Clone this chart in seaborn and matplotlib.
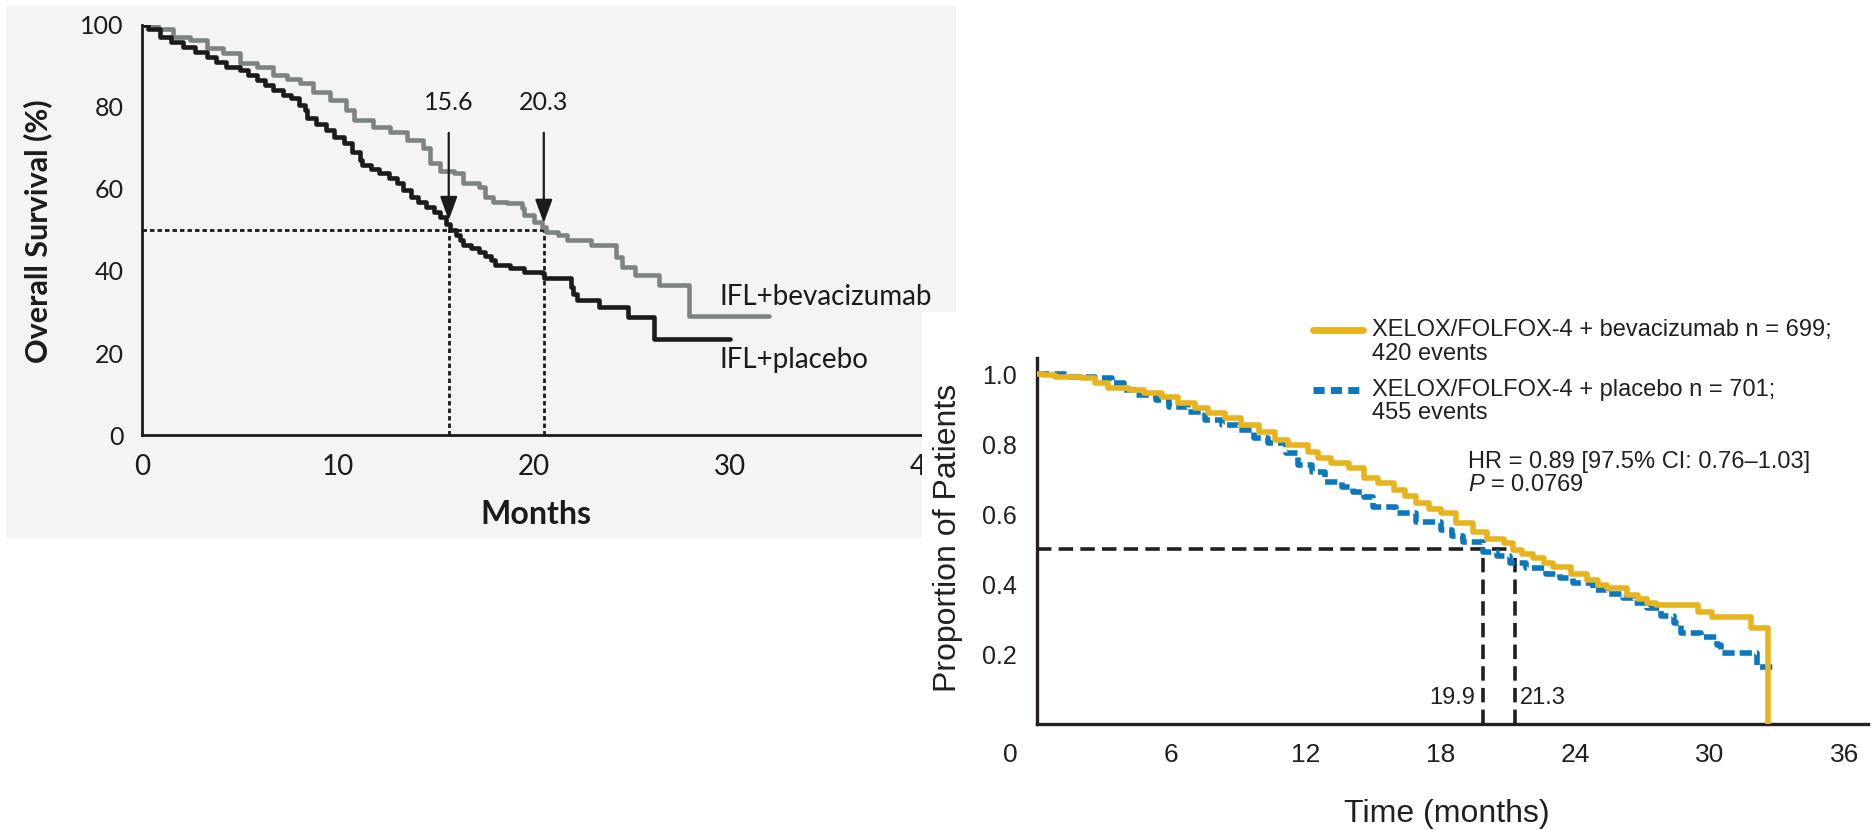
import numpy as np
import pandas as pd
import matplotlib
matplotlib.use("Agg")
import matplotlib.pyplot as plt
import seaborn as sns
from matplotlib.patches import Rectangle
from matplotlib.lines import Line2D

# ---------------- Left panel data (IFL trial) ----------------
ifl_bev_t = [0, 0.8, 1.6, 2.45, 3.3, 4.15, 5.0, 5.85, 6.7, 7.4, 8.06, 8.7, 9.6, 10.4, 10.8,
             11.8, 12.65, 13.5, 14.35, 14.7, 15.2, 15.9, 16.4, 17.2, 17.5, 17.9, 18.6, 19.4,
             19.5, 20.0, 20.4, 20.6, 21.2, 21.7, 22.9, 24.2, 24.5, 25.15, 26.4, 27.9, 32.0]
ifl_bev_s = [100, 99.0, 97.1, 96.3, 94.3, 93.1, 90.7, 89.8, 87.8, 86.8, 85.8, 83.7, 81.7, 79.3, 76.8,
             75.2, 74.0, 72.0, 69.9, 66.3, 64.4, 63.8, 61.4, 60.6, 58.1, 56.9, 56.5, 55.3,
             53.7, 52.0, 50.8, 49.6, 48.8, 47.6, 46.3, 43.5, 41.0, 39.0, 36.6, 29.1, 29.1]

ifl_pla_t = [0, 0.3, 0.9, 1.5, 2.1, 2.7, 3.3, 3.8, 4.3, 5.0, 5.4, 5.85, 6.3, 6.7, 7.2, 7.6, 8.0,
             8.3, 8.4, 8.9, 9.4, 9.8, 10.3, 10.7, 11.1, 11.2, 11.7, 12.1, 12.6, 13.0, 13.3, 13.7,
             14.1, 14.5, 14.9, 15.2, 15.5, 15.7, 16.0, 16.2, 16.4, 16.8, 17.2, 17.5, 17.8, 18.0,
             18.8, 19.5, 20.4, 20.5, 21.9, 22.0, 22.2, 23.3, 24.8, 26.1, 30.0]
ifl_pla_s = [100, 99.0, 97.1, 95.8, 94.7, 93.5, 92.3, 91.0, 89.8, 89.0, 87.8, 86.6, 85.3, 84.1, 83.0, 82.1, 80.6,
             79.3, 77.2, 75.8, 74.4, 72.8, 71.1, 69.0, 67.1, 65.9, 64.8, 63.8, 62.6, 61.4, 59.8, 58.1,
             56.9, 55.7, 54.3, 53.2, 51.5, 50.0, 48.8, 47.6, 46.3, 45.6, 44.7, 43.7, 42.7, 41.5,
             40.7, 39.8, 39.4, 38.2, 36.2, 34.5, 32.9, 31.3, 28.9, 23.4, 23.4]

left_medians = [15.65, 20.5]
left_median_labels = ["15.6", "20.3"]
left_xticks = [0, 10, 20, 30, 40]
left_yticks = [0, 20, 40, 60, 80, 100]
left_series_labels = ["IFL+bevacizumab", "IFL+placebo"]

# ---------------- Right panel data (XELOX/FOLFOX-4 trial) ----------------
bev_t = [0, 0.3, 0.8, 2.0, 2.6, 3.2, 4.1, 4.8, 5.6, 6.3, 7.05, 7.65, 8.4, 9.1, 9.9, 10.6, 11.2,
         12.1, 12.55, 13.1, 13.9, 14.6, 15.2, 15.9, 16.4, 16.9, 17.5, 18.0, 18.7, 19.45, 20.05,
         20.8, 21.2, 21.6, 22.1, 22.6, 23.0, 23.8, 24.5, 25.0, 25.4, 26.3, 26.8, 27.2, 27.6,
         29.45, 30.1, 31.8, 32.6]
bev_s = [1.0, 0.997, 0.992, 0.988, 0.973, 0.959, 0.954, 0.945, 0.935, 0.916, 0.902, 0.888, 0.873, 0.854, 0.835, 0.811, 0.797,
         0.778, 0.759, 0.745, 0.731, 0.702, 0.688, 0.669, 0.650, 0.631, 0.615, 0.602, 0.573, 0.549, 0.528,
         0.516, 0.497, 0.485, 0.473, 0.461, 0.449, 0.430, 0.411, 0.398, 0.388, 0.369, 0.357, 0.345, 0.340,
         0.321, 0.307, 0.273, 0.0]

pla_t = [0, 1.4, 2.6, 3.35, 3.9, 4.4, 5.3, 5.9, 6.75, 7.5, 8.25, 9.0, 9.7, 10.3, 11.1, 11.65,
         12.25, 12.85, 13.6, 14.1, 14.6, 15.0, 16.0, 16.9, 18.0, 18.5, 19.0, 19.9, 20.5, 21.1,
         21.8, 22.7, 23.3, 23.9, 24.8, 25.4, 26.1, 26.6, 27.2, 27.8, 28.4, 28.7, 29.6, 30.3,
         30.5, 32.1, 32.8]
pla_s = [1.0, 0.992, 0.988, 0.973, 0.955, 0.940, 0.926, 0.907, 0.892, 0.869, 0.854, 0.840, 0.816, 0.802, 0.773, 0.740,
         0.721, 0.692, 0.678, 0.663, 0.649, 0.621, 0.602, 0.578, 0.554, 0.538, 0.521, 0.492, 0.480, 0.459,
         0.445, 0.430, 0.416, 0.402, 0.383, 0.371, 0.359, 0.345, 0.331, 0.310, 0.288, 0.259, 0.249, 0.226,
         0.202, 0.164, 0.164]

right_medians = [19.9, 21.3]
right_median_labels = ["19.9", "21.3"]
right_xticks = [6, 12, 18, 24, 30, 36]
right_yticks = [0.2, 0.4, 0.6, 0.8, 1.0]
right_series_labels = ["XELOX/FOLFOX-4 + bevacizumab n = 699;", "420 events",
                       "XELOX/FOLFOX-4 + placebo n = 701;", "455 events"]
hr_text = ["HR = 0.89 [97.5% CI: 0.76\u20131.03]", "$P$ = 0.0769"]

# ---------------- Style ----------------
sns.set_style("white")
plt.rcParams["font.family"] = ["Lato", "DejaVu Sans"]
plt.rcParams["mathtext.fontset"] = "custom"
plt.rcParams["mathtext.it"] = "Liberation Sans:italic"
plt.rcParams["mathtext.rm"] = "Liberation Sans"

ARIAL = ["Liberation Sans", "DejaVu Sans"]

W, H = 1873, 830
fig = plt.figure(figsize=(W / 100, H / 100), dpi=100)
fig.patch.set_facecolor("white")


def fx(px):
    return px / W


def fy(py):
    return 1 - py / H


# gray background of left panel
fig.add_artist(Rectangle((fx(6), fy(538)), fx(956) - fx(6), fy(6) - fy(538),
                         transform=fig.transFigure, facecolor="#f4f4f4",
                         edgecolor="none", zorder=-5))

# ---------------- Left axes ----------------
L_X0, L_X1, L_Y0, L_Y1 = 142, 940, 435, 25
ax1 = fig.add_axes([fx(L_X0), fy(L_Y0), fx(L_X1) - fx(L_X0), fy(L_Y1) - fy(L_Y0)], zorder=0)
ax1.set_facecolor("none")
xmax1 = (L_X1 - L_X0) / 19.6
ax1.set_xlim(0, xmax1)
ax1.set_ylim(0, 100)

BLK = "#1c1a1a"
sns.lineplot(x=ifl_bev_t, y=ifl_bev_s, ax=ax1, color="#7d8383", lw=3.3,
             drawstyle="steps-post", estimator=None, sort=False, zorder=3)
sns.lineplot(x=ifl_pla_t, y=ifl_pla_s, ax=ax1, color=BLK, lw=3.3,
             drawstyle="steps-post", estimator=None, sort=False, zorder=4)

dot = (0, (1.6, 1.1))
ax1.plot([0, max(left_medians)], [50, 50], color=BLK, lw=2.0, ls=dot, zorder=2)
for m in left_medians:
    ax1.plot([m, m], [0, 50], color=BLK, lw=2.0, ls=dot, zorder=2)

arrow_tips = [52.4, 51.7]
for m, lab, tip in zip(left_medians, left_median_labels, arrow_tips):
    ax1.annotate("", xy=(m, tip), xytext=(m, 73.7),
                 arrowprops=dict(arrowstyle="-|>,head_length=0.6,head_width=0.22",
                                 mutation_scale=24, lw=1.6, color=BLK,
                                 shrinkA=0, shrinkB=0), zorder=5)
    ax1.text(m, 81.2, lab, ha="center", va="center", fontsize=18, color=BLK)

ax1.text(29.46, 33.7, left_series_labels[0], ha="left", va="center", fontsize=20, color=BLK)
ax1.text(29.46, 18.3, left_series_labels[1], ha="left", va="center", fontsize=20, color=BLK)

for s in ["top", "right"]:
    ax1.spines[s].set_visible(False)
for s in ["left", "bottom"]:
    ax1.spines[s].set_linewidth(2.0)
    ax1.spines[s].set_color(BLK)
ax1.set_xticks(left_xticks)
ax1.set_yticks(left_yticks)
ax1.tick_params(axis="both", direction="out", length=10, width=1.6, colors=BLK)
ax1.tick_params(axis="y", labelsize=18, pad=3)
ax1.tick_params(axis="x", labelsize=20, pad=4)

ax1.set_xlabel("Months", fontsize=23, fontweight="bold", color=BLK)
ax1.xaxis.set_label_coords((535.8 - L_X0) / (L_X1 - L_X0), (L_Y0 - 500) / (L_Y0 - L_Y1))
ax1.set_ylabel("Overall Survival (%)", fontsize=22, fontweight="bold", color=BLK)
ax1.yaxis.label.set_rotation_mode("default")
ax1.yaxis.label.set_va("center")
ax1.yaxis.set_label_coords((38 - L_X0) / (L_X1 - L_X0), (L_Y0 - 231) / (L_Y0 - L_Y1))

# white background of right panel (covers left panel corner)
fig.add_artist(Rectangle((fx(922), 0), 1 - fx(922), fy(312),
                         transform=fig.transFigure, facecolor="white",
                         edgecolor="none", zorder=1))

# ---------------- Right axes ----------------
R_X0, R_X1, R_Y0, R_Y1 = 1036.6, 1868, 724, 358
ax2 = fig.add_axes([fx(R_X0), fy(R_Y0), fx(R_X1) - fx(R_X0), fy(R_Y1) - fy(R_Y0)], zorder=2)
ax2.set_facecolor("none")
ax2.set_xlim(0, (R_X1 - R_X0) / 22.45)
ax2.set_ylim(0, (R_Y0 - R_Y1) / 350)

DK = "#231f20"
YEL = "#e8b41e"
BLU = "#0b78be"
sns.lineplot(x=pla_t, y=pla_s, ax=ax2, color=BLU, lw=4.0, linestyle=(0, (2.2, 0.9)),
             drawstyle="steps-post", estimator=None, sort=False, zorder=3)
sns.lineplot(x=bev_t, y=bev_s, ax=ax2, color=YEL, lw=4.0,
             drawstyle="steps-post", estimator=None, sort=False, zorder=4)

dash = (0, (4, 2))
ax2.plot([0, max(right_medians)], [0.5, 0.5], color=DK, lw=2.6, ls=dash, zorder=2)
for m in right_medians:
    ax2.plot([m, m], [0, 0.5], color=DK, lw=2.6, ls=dash, zorder=2)
ax2.text(right_medians[0] - 0.37, 0.0734, right_median_labels[0], ha="right", va="center",
         fontsize=17, color=DK, family=ARIAL)
ax2.text(right_medians[1] + 0.23, 0.0734, right_median_labels[1], ha="left", va="center",
         fontsize=17, color=DK, family=ARIAL)


def axfx(px):
    return (px - R_X0) / (R_X1 - R_X0)


def axfy(py):
    return (R_Y0 - py) / (R_Y0 - R_Y1)


# HR annotation
ax2.text(axfx(1468), axfy(462.3), hr_text[0], transform=ax2.transAxes, ha="left", va="center",
         fontsize=17, color=DK, family=ARIAL)
ax2.text(axfx(1468), axfy(485.3), hr_text[1], transform=ax2.transAxes, ha="left", va="center",
         fontsize=17, color=DK, family=ARIAL)

# legend (manual layout)
leg_items = [(YEL, "-", 329.7, right_series_labels[0], 354.0, right_series_labels[1]),
             (BLU, (0, (1.6, 0.9)), 389.6, right_series_labels[2], 413.3, right_series_labels[3])]
for col, ls, y1, t1, y2, t2 in leg_items:
    ax2.add_line(Line2D([axfx(1313), axfx(1362.5)], [axfy(y1), axfy(y1)], color=col, lw=5.0,
                        ls=ls, transform=ax2.transAxes, clip_on=False))
    ax2.text(axfx(1371.8), axfy(y1), t1, transform=ax2.transAxes, ha="left", va="center",
             fontsize=17, color=DK, family=ARIAL)
    ax2.text(axfx(1371.8), axfy(y2), t2, transform=ax2.transAxes, ha="left", va="center",
             fontsize=17, color=DK, family=ARIAL)

for s in ["top", "right"]:
    ax2.spines[s].set_visible(False)
for s in ["left", "bottom"]:
    ax2.spines[s].set_linewidth(2.4)
    ax2.spines[s].set_color(DK)
ax2.set_xticks(right_xticks)
ax2.set_yticks(right_yticks, labels=[f"{v:.1f}" for v in right_yticks])
ax2.tick_params(axis="both", direction="out", width=2.0, colors=DK, labelfontfamily=ARIAL[0])
ax2.tick_params(axis="x", length=8, labelsize=19, pad=6)
ax2.tick_params(axis="y", length=9, labelsize=18, pad=5)
# origin label sits to the left of the y axis
ax2.text(axfx(1010), axfy(724 + 11 + 6 * 1.389), "0", transform=ax2.transAxes,
         ha="center", va="top", fontsize=19, color=DK, family=ARIAL)

ax2.set_xlabel("Time (months)", fontsize=23, color=DK, family=ARIAL)
ax2.xaxis.label.set_va("baseline")
ax2.xaxis.set_label_coords(axfx(1447), axfy(822))
ax2.set_ylabel("Proportion of Patients", fontsize=23, color=DK, family=ARIAL)
ax2.yaxis.label.set_rotation_mode("default")
ax2.yaxis.label.set_va("center")
ax2.yaxis.set_label_coords(axfx(948), axfy(538))

fig.savefig("out.png", dpi=100, facecolor="white")
